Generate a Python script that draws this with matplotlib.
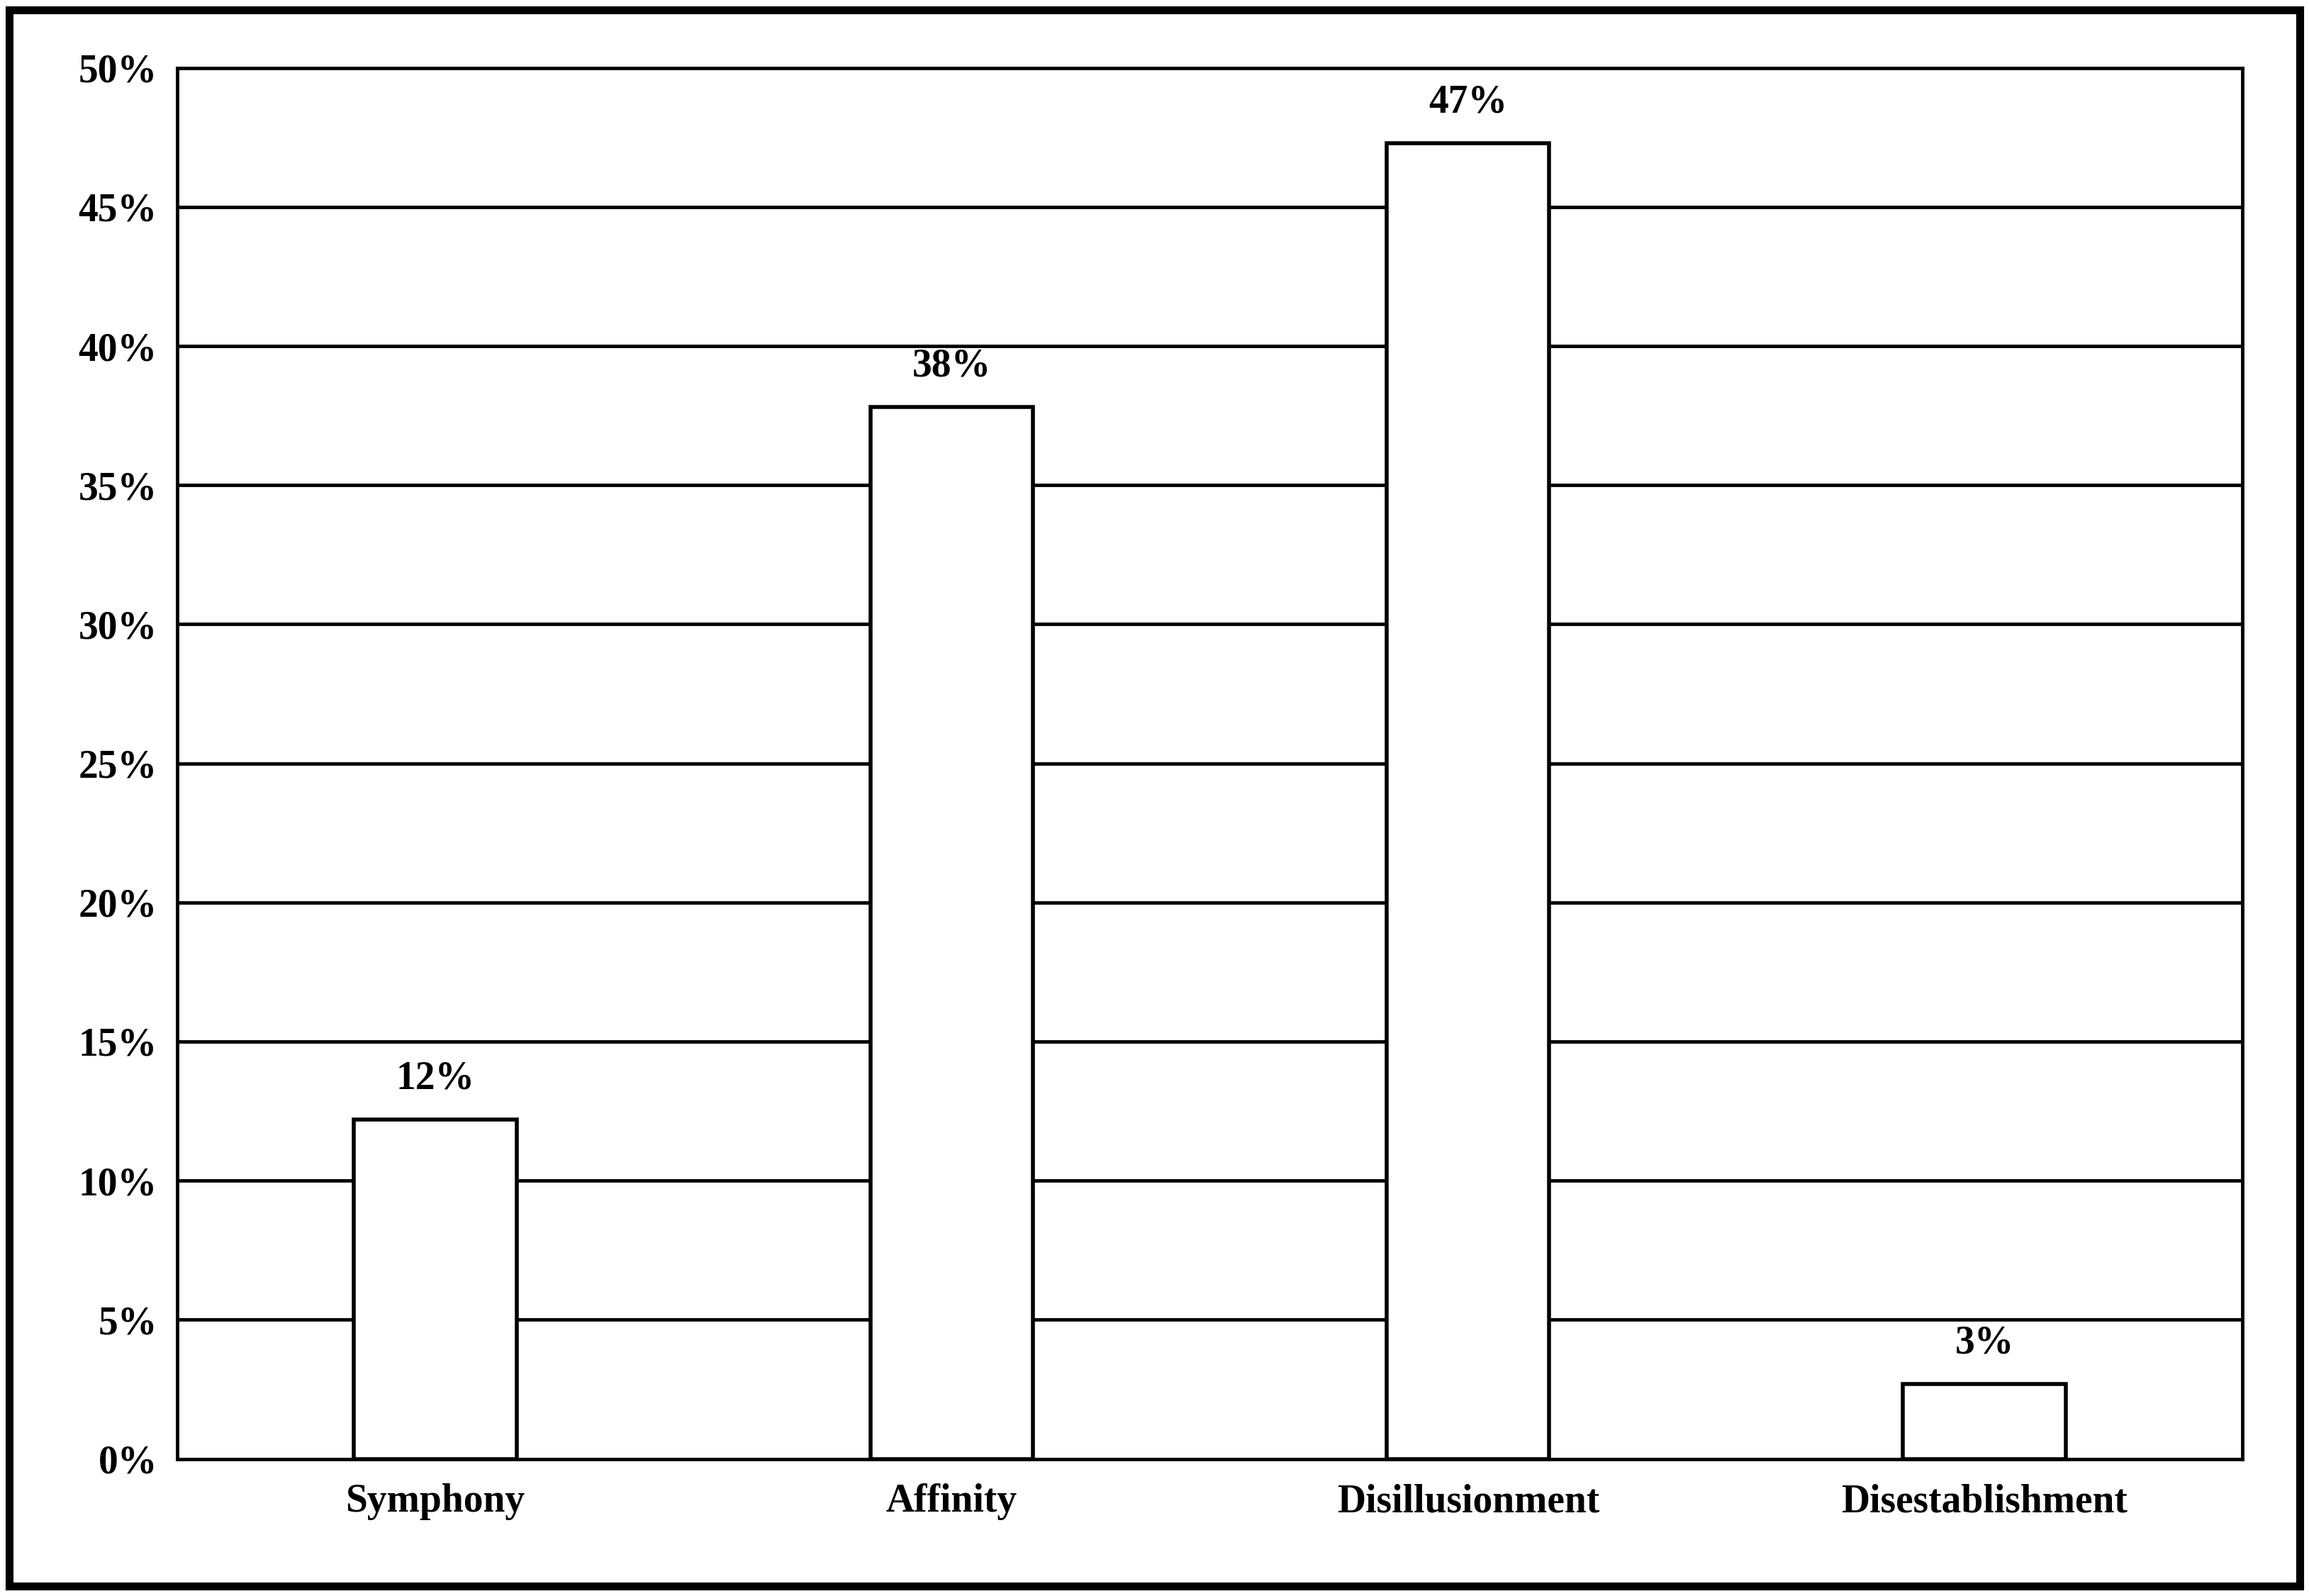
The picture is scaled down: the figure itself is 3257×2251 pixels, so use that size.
import matplotlib.pyplot as plt
from matplotlib.patches import Rectangle
from matplotlib.ticker import PercentFormatter

categories = ['Symphony', 'Affinity', 'Disillusionment', 'Disestablishment']
values = [12.2, 37.8, 47.3, 2.7]
labels = ['12%', '38%', '47%', '3%']

plt.rcParams['font.family'] = ['Liberation Serif', 'DejaVu Serif']
plt.rcParams['font.weight'] = 'bold'

fig = plt.figure(figsize=(32.57, 22.51), dpi=100)
ax = fig.add_axes([120 / 1566, 1 - 989 / 1082, 1401 / 1566, 943 / 1082])

x = range(len(categories))
bars = ax.bar(x, values, width=0.315, color='white', edgecolor='black', linewidth=4, zorder=3)
for b, lab in zip(bars, labels):
    ax.text(b.get_x() + b.get_width() / 2, b.get_height() + 0.8, lab,
            ha='center', va='bottom', fontsize=40, fontweight='bold')

ax.set_xlim(-0.5, 3.5)
ax.set_ylim(0, 50)
ax.set_yticks(range(0, 51, 5))
ax.yaxis.set_major_formatter(PercentFormatter(decimals=0))
ax.set_xticks(list(x))
ax.set_xticklabels(categories)
ax.tick_params(axis='both', length=0, labelsize=40, pad=25)
ax.tick_params(axis='y', pad=20)
ax.yaxis.grid(True, color='black', linewidth=3.5, zorder=0)
ax.set_axisbelow(True)
for s in ax.spines.values():
    s.set_linewidth(3.5)

fig.patches.append(Rectangle((0.004, 0.006), 0.992, 0.988, transform=fig.transFigure,
                             fill=False, edgecolor='black', linewidth=8))

fig.savefig('out.png', dpi=100)
